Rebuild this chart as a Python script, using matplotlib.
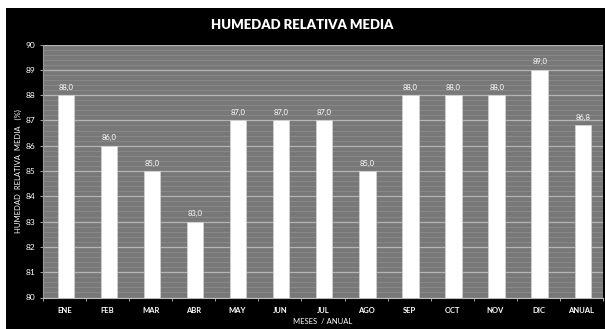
import matplotlib
matplotlib.use("Agg")
import matplotlib.pyplot as plt
import numpy as np
from matplotlib.patches import Rectangle

categories = ["ENE", "FEB", "MAR", "ABR", "MAY", "JUN", "JUL", "AGO", "SEP", "OCT", "NOV", "DIC", "ANUAL"]
values = [88.0, 86.0, 85.0, 83.0, 87.0, 87.0, 87.0, 85.0, 88.0, 88.0, 88.0, 89.0, 86.8]
value_labels = ["88,0", "86,0", "85,0", "83,0", "87,0", "87,0", "87,0", "85,0", "88,0", "88,0", "88,0", "89,0", "86,8"]
yticks = [80, 81, 82, 83, 84, 85, 86, 87, 88, 89, 90]

plt.rcParams['font.family'] = ['Lato', 'DejaVu Sans']

W, H = 605, 329
fig = plt.figure(figsize=(W / 100, H / 100), dpi=100)
fig.patch.set_facecolor("white")
# black panel
fig.patches.append(Rectangle((6 / W, 0), 1 - 6 / W, 1 - 8 / H, transform=fig.transFigure,
                             facecolor="black", edgecolor="none", zorder=-5))

ax = fig.add_axes([43 / W, 1 - 297.5 / H, (603 - 43) / W, (297.5 - 44.5) / H])
ax.set_zorder(5)
ax.set_facecolor("#787878")
x = np.arange(len(categories))
ax.set_xlim(-0.5, len(categories) - 0.5)
ax.set_ylim(80, 90)

# minor stripes
for yy in np.arange(80, 90.001, 0.2):
    ax.axhline(yy, color="#8a8a8a", lw=0.6, zorder=0.5)
for yy in yticks:
    ax.axhline(yy, color="#b4b4b4", lw=0.9, zorder=0.6)

bars = ax.bar(x + 0.03, [v - 80 for v in values], bottom=80, width=0.38,
              color="white", edgecolor="#d0d0d0", linewidth=0.6, zorder=2)
for xi, v, lab in zip(x, values, value_labels):
    ax.text(xi + 0.03, v + 0.17, lab, ha="center", va="bottom", color="white",
            fontsize=5.5, zorder=3)

ax.set_yticks(yticks)
ax.set_yticklabels([str(t) for t in yticks], color="white", fontsize=6)
ax.set_xticks(x)
ax.set_xticklabels(categories, color="white", fontsize=5.5, fontweight="bold")
ax.set_xticks(np.arange(-0.5, len(categories), 1), minor=True)
ax.tick_params(axis="x", which="major", length=0, pad=7)
ax.tick_params(axis="x", which="minor", length=2.5, color="#bbbbbb", width=0.6)
ax.tick_params(axis="y", length=2.5, color="#bbbbbb", width=0.6, pad=3)
for s in ["top", "right"]:
    ax.spines[s].set_visible(False)
ax.spines["left"].set_color("#9a9a9a")
ax.spines["bottom"].set_color("#bbbbbb")
ax.spines["left"].set_linewidth(0.8)
ax.spines["bottom"].set_linewidth(0.8)

fig.text(0.5, 1 - 25 / H, "HUMEDAD RELATIVA MEDIA", ha="center", va="center",
         color="white", fontsize=9.5, fontweight="heavy")
fig.text(18 / W, 1 - 171 / H, "HUMEDAD  RELATIVA  MEDIA   (%)", ha="center", va="center",
         rotation=90, color="white", fontsize=5.5)
fig.text(323 / W, 1 - 322 / H, "MESES  / ANUAL", ha="center", va="center",
         color="white", fontsize=5.5)

fig.savefig("out.png", dpi=100, facecolor=fig.get_facecolor())
